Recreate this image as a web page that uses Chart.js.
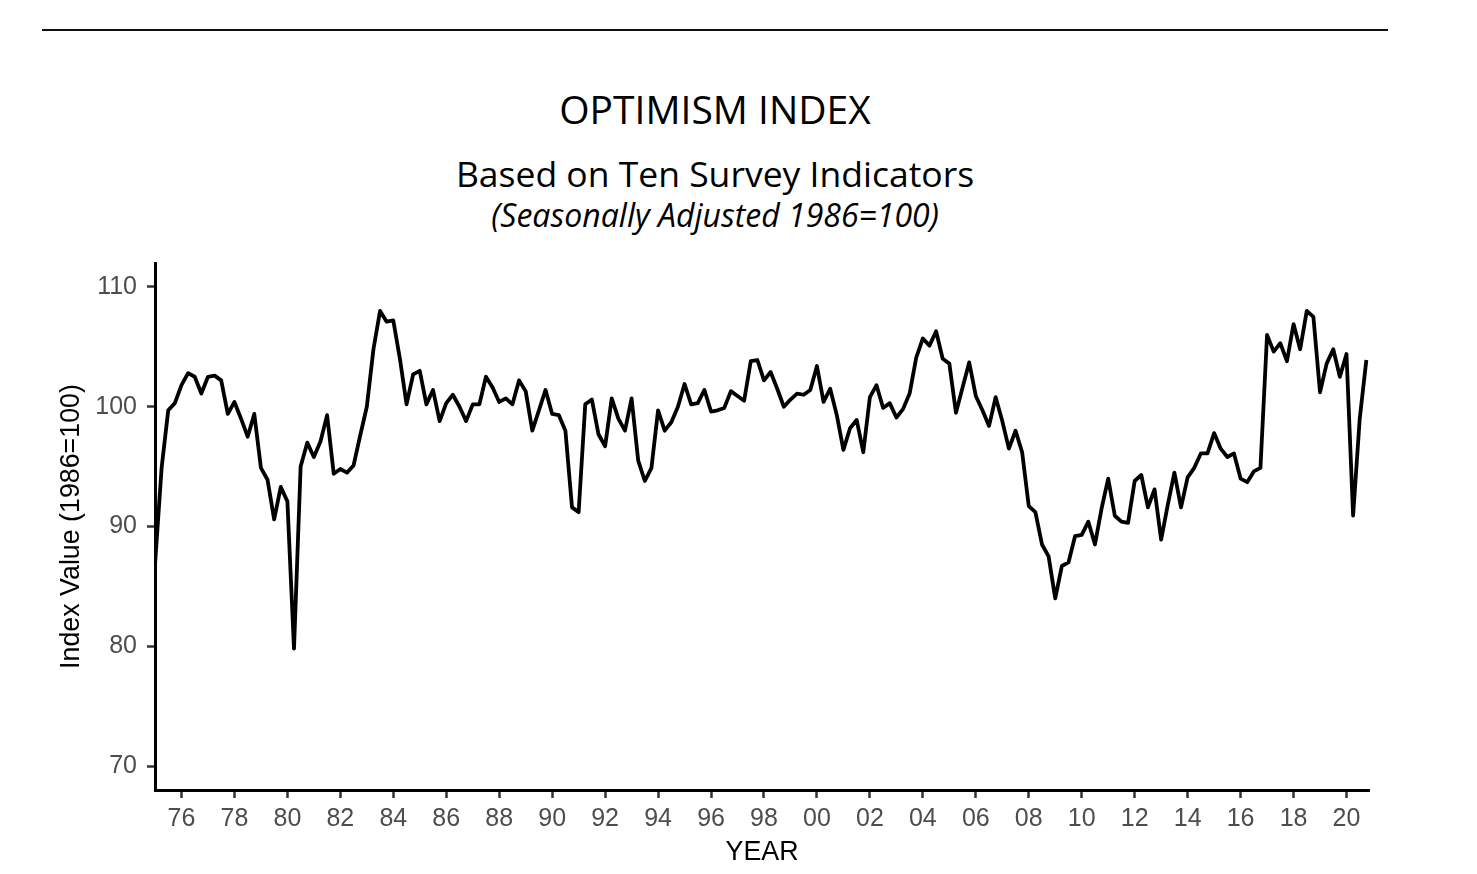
<!DOCTYPE html>
<html>
<head>
<meta charset="utf-8">
<script src="https://cdn.jsdelivr.net/npm/chart.js@4.4.1/dist/chart.umd.min.js"></script>
<style>
  html, body { margin: 0; padding: 0; background: #fff; }
  body { width: 1477px; height: 874px; position: relative; overflow: hidden; }
  #rule { position: absolute; left: 42px; top: 29px; width: 1346px; height: 2px; background: #111; }
  .hd { position: absolute; left: 0; width: 1430px; text-align: center; font-family: "Open Sans", "Noto Sans", sans-serif; color: #000; line-height: 1; white-space: nowrap; }
  #t1 { top: 89px; font-size: 39px; }
  #t2 { top: 156px; font-size: 35.5px; }
  #t3 { top: 199px; font-size: 32px; font-style: italic; }
  #c { position: absolute; left: 0; top: 0; }
</style>
</head>
<body>
<div id="rule"></div>
<div class="hd" id="t1">OPTIMISM INDEX</div>
<div class="hd" id="t2">Based on Ten Survey Indicators</div>
<div class="hd" id="t3">(Seasonally Adjusted 1986=100)</div>
<canvas id="c" width="1477" height="874"></canvas>
<script>
// Quarterly index values
const firstYear = 1975;
const values1975to1979 = [86.8, 94.9, 99.7, 100.3, 101.8, 102.8, 102.5, 101.1, 102.5, 102.6,
  102.2, 99.4, 100.4, 99.0, 97.5, 99.4, 94.9, 93.9, 90.6, 93.3];
const values1980to1989 = [92.1, 79.8, 95.0, 97.0, 95.8, 97.1, 99.3, 94.4, 94.8, 94.5,
  95.1, 97.6, 100.0, 104.8, 108.0, 107.1, 107.2, 104.0, 100.2, 102.7,
  103.0, 100.2, 101.4, 98.8, 100.3, 101.0, 100.0, 98.8, 100.2, 100.2,
  102.5, 101.6, 100.4, 100.7, 100.2, 102.2, 101.3, 98.0, 99.7, 101.4];
const values1990to1999 = [99.4, 99.3, 98.0, 91.6, 91.2, 100.2, 100.6, 97.7, 96.7, 100.7,
  99.0, 98.0, 100.7, 95.5, 93.8, 94.9, 99.7, 98.0, 98.7, 100.0,
  101.9, 100.2, 100.3, 101.4, 99.6, 99.7, 99.9, 101.3, 100.9, 100.5,
  103.8, 103.9, 102.2, 102.9, 101.5, 100.0, 100.6, 101.1, 101.0, 101.4];
const values2000to2009 = [103.4, 100.4, 101.5, 99.3, 96.4, 98.2, 98.9, 96.2, 100.8, 101.8,
  99.9, 100.3, 99.1, 99.8, 101.1, 104.1, 105.7, 105.1, 106.3, 104.0,
  103.6, 99.5, 101.6, 103.7, 100.9, 99.7, 98.4, 100.8, 98.8, 96.5,
  98.0, 96.2, 91.7, 91.2, 88.5, 87.5, 84.0, 86.7, 87.0, 89.2];
const values2010to2020 = [89.3, 90.4, 88.5, 91.5, 94.0, 90.9, 90.4, 90.3, 93.8, 94.3,
  91.6, 93.1, 88.9, 91.8, 94.5, 91.6, 94.1, 94.9, 96.1, 96.1,
  97.8, 96.5, 95.8, 96.1, 94.0, 93.7, 94.6, 94.9, 106.0, 104.6,
  105.3, 103.8, 106.9, 104.8, 108.0, 107.5, 101.2, 103.6, 104.8, 102.5,
  104.4, 90.9, 99.0, 103.9];

const xTickYears = [1976, 1978, 1980, 1982, 1984, 1986, 1988, 1990, 1992, 1994, 1996, 1998,
  2000, 2002, 2004, 2006, 2008, 2010, 2012, 2014, 2016, 2018, 2020];
const yTickValues = [70, 80, 90, 100, 110];

const allValues = [].concat(values1975to1979, values1980to1989, values1990to1999,
  values2000to2009, values2010to2020);
const points = allValues.map((v, i) => ({ x: firstYear + i / 4, y: v }));

const tickFont = { family: "'Liberation Sans', Arial, sans-serif", size: 25 };
const titleFont = { family: "'Liberation Sans', Arial, sans-serif", size: 26.8 };

new Chart(document.getElementById('c'), {
  type: 'line',
  data: {
    datasets: [{
      data: points,
      borderColor: '#000',
      borderWidth: 3.8,
      pointRadius: 0,
      tension: 0,
      fill: false,
      borderJoinStyle: 'round'
    }]
  },
  options: {
    responsive: false,
    animation: false,
    devicePixelRatio: 1,
    layout: { padding: { left: 0, top: 263, right: 108, bottom: 0 } },
    plugins: { legend: { display: false }, tooltip: { enabled: false } },
    scales: {
      x: {
        type: 'linear',
        min: 1975,
        max: 2020.85,
        afterFit: (s) => { s.height = 84; },
        afterBuildTicks: (s) => { s.ticks = xTickYears.map(v => ({ value: v })); },
        border: { display: true, color: '#000', width: 3 },
        grid: { display: true, drawOnChartArea: false, drawTicks: true, tickLength: 8, tickColor: '#333', tickWidth: 2.5 },
        ticks: {
          color: '#4d4d4d', font: tickFont, padding: 6, maxRotation: 0, autoSkip: false,
          callback: (v) => String(v % 100).padStart(2, '0')
        },
        title: { display: true, text: 'YEAR', color: '#000', font: titleFont, padding: { top: 0, bottom: 5 } }
      },
      y: {
        type: 'linear',
        min: 68,
        max: 112,
        afterFit: (s) => { s.width = 155; },
        afterBuildTicks: (s) => { s.ticks = yTickValues.map(v => ({ value: v })); },
        border: { display: true, color: '#000', width: 3 },
        grid: { display: true, drawOnChartArea: false, drawTicks: true, tickLength: 8, tickColor: '#333', tickWidth: 2.5 },
        ticks: { color: '#4d4d4d', font: tickFont, padding: 10 },
        title: { display: true, text: 'Index Value (1986=100)', color: '#000', font: titleFont, padding: { top: 56, bottom: 0 } }
      }
    }
  }
});
</script>
</body>
</html>
